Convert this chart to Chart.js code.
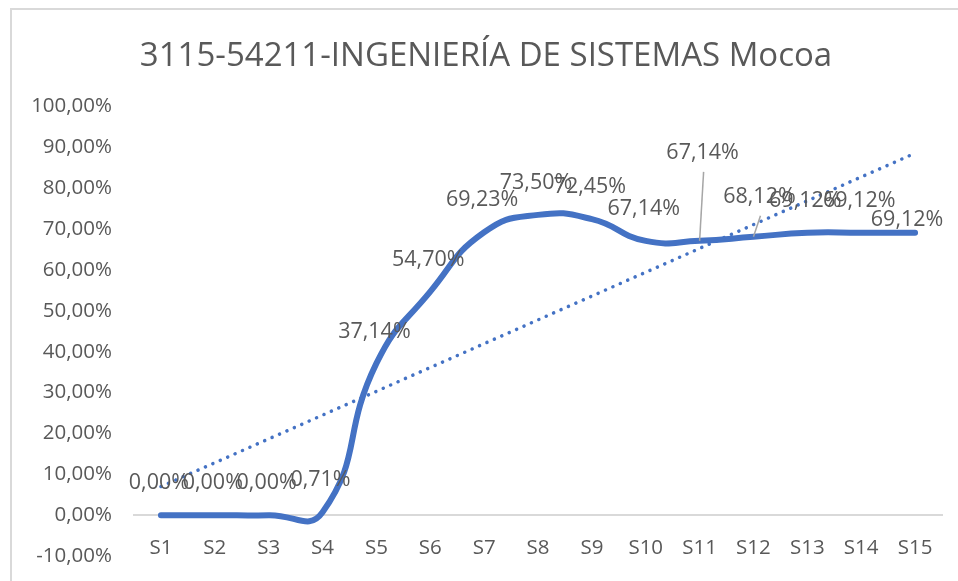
<!DOCTYPE html>
<html>
<head>
<meta charset="utf-8">
<script src="https://cdn.jsdelivr.net/npm/chart.js@4/dist/chart.umd.min.js"></script>
<style>
  body { margin: 0; background: #fff; }
  #wrap { position: relative; width: 958px; height: 581px; }
  #frame { position: absolute; left: 10px; top: 8px; right: -10px; bottom: -10px;
           border-left: 2px solid #d9d9d9; border-top: 2px solid #d9d9d9; }
  canvas { position: absolute; left: 0; top: 0; }
</style>
</head>
<body>
<div id="wrap">
  <div id="frame"></div>
  <canvas id="chart" width="958" height="581"></canvas>
</div>
<script>
const chartTitle = '3115-54211-INGENIERÍA DE SISTEMAS Mocoa';
const semesters = ['S1', 'S2', 'S3', 'S4', 'S5', 'S6', 'S7', 'S8', 'S9', 'S10', 'S11', 'S12', 'S13', 'S14', 'S15'];
const retention = [0, 0, 0, 0.71, 37.14, 54.70, 69.23, 73.50, 72.45, 67.14, 67.14, 68.12, 69.12, 69.12, 69.12];
// linear trendline at its two ends
const trend = [7.0, null, null, null, null, null, null, null, null, null, null, null, null, null, 88.6];
const yTicks = { min: -10, max: 100, step: 10 };

const textColor = '#595959';
const lineColor = '#4472C4';

function pct(v) {
  return v.toFixed(2).replace('.', ',') + '%';
}

// label placement: default above the point, a few were moved by hand
const labelShift = semesters.map(() => ({ dx: -2, dy: -32, leader: false }));
labelShift[10] = { dx: 3, dy: -88, leader: true };
labelShift[11] = { dx: 6, dy: -40, leader: true };
labelShift[14] = { dx: -8, dy: -13, leader: false };

const dataLabels = {
  id: 'dataLabels',
  afterDatasetsDraw(chart) {
    const meta = chart.getDatasetMeta(0);
    const ctx = chart.ctx;
    ctx.save();
    ctx.font = '21.5px "Open Sans"';
    ctx.fillStyle = textColor;
    ctx.textAlign = 'center';
    ctx.textBaseline = 'middle';
    meta.data.forEach((pt, i) => {
      const s = labelShift[i];
      const lx = pt.x + s.dx, ly = pt.y + s.dy;
      if (s.leader) {
        ctx.strokeStyle = '#a6a6a6';
        ctx.lineWidth = 1.5;
        ctx.beginPath();
        ctx.moveTo(lx + 1, ly + 19);
        ctx.lineTo(pt.x, pt.y);
        ctx.stroke();
      }
      ctx.fillText(pct(retention[i]), lx, ly);
    });
    ctx.restore();
  }
};

new Chart(document.getElementById('chart'), {
  type: 'line',
  data: {
    labels: semesters,
    datasets: [
      {
        label: 'Retención',
        data: retention,
        borderColor: lineColor,
        borderWidth: 6,
        borderCapStyle: 'round',
        borderJoinStyle: 'round',
        tension: 0.5,
        pointRadius: 0,
        fill: false,
        order: 1
      },
      {
        label: 'Lineal',
        data: trend,
        borderColor: lineColor,
        borderWidth: 3.5,
        borderDash: [0.1, 8],
        borderCapStyle: 'round',
        spanGaps: true,
        tension: 0,
        pointRadius: 0,
        fill: false,
        order: 0
      }
    ]
  },
  options: {
    responsive: false,
    animation: false,
    layout: { padding: { left: 30, right: 16, top: 30, bottom: 25 } },
    scales: {
      x: {
        position: { y: 0 },
        offset: true,
        grid: { display: false, drawTicks: false },
        border: { display: true, color: '#d9d9d9', width: 2 },
        ticks: { color: textColor, font: { family: 'Open Sans', size: 20.5 }, padding: 21, maxRotation: 0, autoSkip: false },
        afterFit(scale) { scale.height = 0; }
      },
      y: {
        min: yTicks.min,
        max: yTicks.max,
        grid: { display: false, drawTicks: false },
        border: { display: false },
        ticks: {
          stepSize: yTicks.step,
          color: textColor,
          font: { family: 'Open Sans', size: 20.5 },
          padding: 22,
          callback: v => pct(v)
        },
        afterFit(scale) {
          scale.width = 104;
          // tick padding is only meant horizontally here
          scale.paddingTop = 12;
          scale.paddingBottom = 12;
        }
      }
    },
    plugins: {
      legend: { display: false },
      tooltip: { enabled: false },
      title: {
        display: true,
        text: chartTitle,
        color: textColor,
        font: { family: 'Open Sans', size: 33, weight: 'normal' },
        padding: { top: 7, bottom: 30 }
      }
    }
  },
  plugins: [dataLabels]
});
</script>
</body>
</html>
